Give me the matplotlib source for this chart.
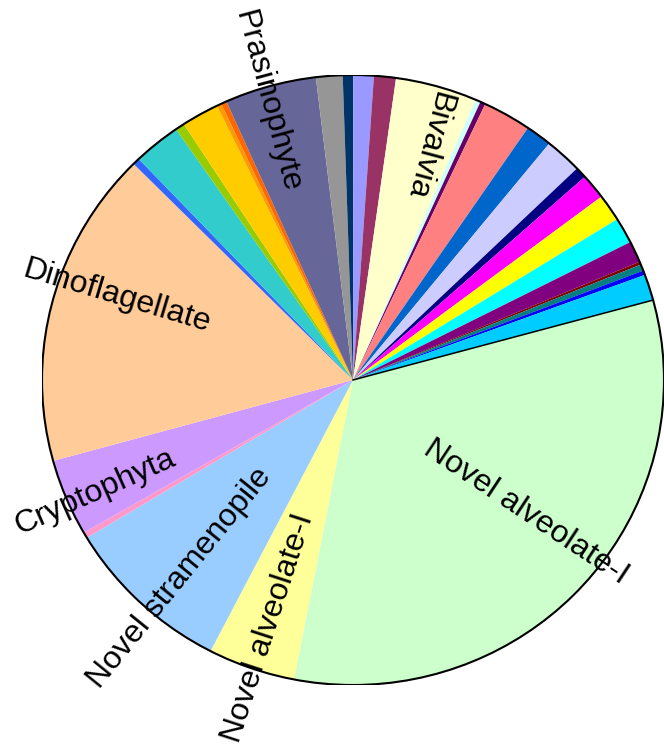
import numpy as np
import matplotlib.pyplot as plt
from matplotlib.patches import Circle

plt.rcParams['font.family'] = ['Liberation Sans', 'DejaVu Sans']

# slice shares (%), listed clockwise starting with the big green one
shares = [32.26, 4.54, 8.77, 0.31, 4.07, 16.81, 0.37, 2.46, 0.48, 1.95,
          0.24, 0.29, 4.77, 1.38, 0.54, 1.06, 1.14, 4.24, 0.27, 0.27,
          2.52, 1.36, 1.93, 0.59, 1.34, 1.43, 1.37, 1.13, 0.16, 0.34,
          0.24, 1.38]
colors = ['#CCFFCC', '#FFFF99', '#99CCFF', '#FF99CC', '#CC99FF', '#FFCC99',
          '#3366FF', '#33CCCC', '#99CC00', '#FFCC00', '#FF9900', '#FF6600',
          '#666699', '#969696', '#003366', '#9999FF', '#993366', '#FFFFCC',
          '#CCFFFF', '#660066', '#FF8080', '#0066CC', '#CCCCFF', '#000080',
          '#FF00FF', '#FFFF00', '#00FFFF', '#800080', '#800000', '#008080',
          '#0000FF', '#00CCFF']

# labelled slices: text, label position (data units), rotation
label_txt = ['Novel alveolate-I', 'Novel alveolate-I', 'Novel stramenopile',
             'Cryptophyta', 'Dinoflagellate', 'Prasinophyte', 'Bivalvia']
label_xy = [(0.556, -0.433), (-0.274, -0.812), (-0.559, -0.649),
            (-0.830, -0.367), (-0.759, 0.275), (-0.277, 0.912), (0.241, 0.770)]
label_rot = [-33.5, 72, 51, 24, -16.7, -75, -105]

fig = plt.figure(figsize=(6.64, 7.44), dpi=100)
ax = fig.add_axes([42 / 664, 59 / 744, 622 / 664, 610 / 744])

wedges, _ = ax.pie(shares, colors=colors, startangle=15.19, counterclock=False,
                   radius=1, wedgeprops=dict(linewidth=0))
ax.set_aspect('auto')
ax.set_xlim(-1, 1)
ax.set_ylim(-1, 1)
ax.axis('off')

# outline and the black edge on the first slice
ax.add_patch(Circle((0, 0), 1, fill=False, edgecolor='black', lw=1.5, zorder=5))
a = np.deg2rad(wedges[0].theta2)
ax.plot([0, np.cos(a)], [0, np.sin(a)], color='black', lw=1.1, zorder=5)

for t, (x, y), r in zip(label_txt, label_xy, label_rot):
    ax.text(x, y, t, rotation=r, ha='center', va='center', fontsize=23,
            rotation_mode='anchor', zorder=6)

fig.savefig('out.png', dpi=100)
